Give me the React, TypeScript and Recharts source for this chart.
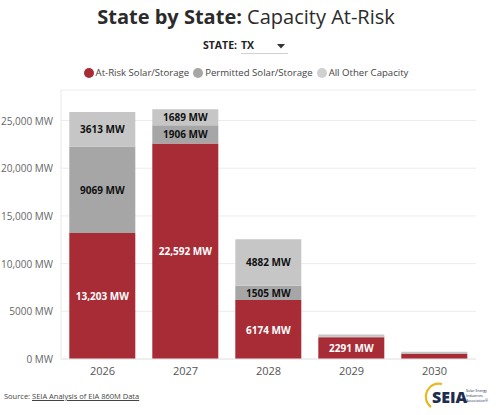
import React from 'react'
import { BarChart, Bar, XAxis, YAxis, CartesianGrid, LabelList } from 'recharts'

const years = ['2026', '2027', '2028', '2029', '2030']
const atRisk = [13203, 22592, 6174, 2291, 560]
const permitted = [9069, 1906, 1505, 60, 40]
const otherCapacity = [3613, 1689, 4882, 230, 170]
const yTicks = [0, 5000, 10000, 15000, 20000, 25000]

const RED = '#a82c36'
const DARK_GRAY = '#a6a6a6'
const LIGHT_GRAY = '#c6c6c6'
const FONT = '"Open Sans", sans-serif'

const data = years.map((year, i) => ({
  year,
  atRisk: atRisk[i],
  permitted: permitted[i],
  other: otherCapacity[i],
}))

function fmtMW(v: number): string {
  if (v >= 10000) return `${v.toLocaleString('en-US')} MW`
  return `${v} MW`
}

/* eslint-disable @typescript-eslint/no-explicit-any */
function YTick({ x, y, payload }: any) {
  return (
    <text x={x} y={y} textAnchor="end" dominantBaseline="central" fontSize={10} fill="#666" fontFamily={FONT}>
      {fmtMW(payload.value)}
    </text>
  )
}

function segmentLabel(color: string) {
  return (props: any) => {
    const { x, y, width, height, value } = props
    if (height < 14) return null
    return (
      <text
        x={x + width / 2}
        y={y + height / 2}
        textAnchor="middle"
        dominantBaseline="central"
        fill={color}
        fontSize={10}
        fontWeight={700}
        fontFamily={FONT}
      >
        {fmtMW(value)}
      </text>
    )
  }
}
/* eslint-enable @typescript-eslint/no-explicit-any */

function LegendItem({ color, label }: { color: string; label: string }) {
  return (
    <span style={{ display: 'inline-flex', alignItems: 'center', gap: '2px' }}>
      <span style={{ width: 10, height: 10, borderRadius: '50%', background: color, display: 'inline-block' }} />
      {label}
    </span>
  )
}

export default function App() {
  return (
    <div style={{
      position: 'absolute', top: 0, left: 0, width: 500, height: 415,
      background: '#ffffff', fontFamily: FONT, color: '#333', overflow: 'hidden'
    }}>
      {/* Title */}
      <div style={{ position: 'absolute', top: 3, left: 0, width: 492, textAlign: 'center', fontSize: '20px', color: '#2b2b2b' }}>
        <span style={{ fontWeight: 700 }}>State by State:</span> Capacity At-Risk
      </div>

      {/* State selector */}
      <div style={{ position: 'absolute', top: 38, left: 203, fontSize: '10.5px', fontWeight: 700, color: '#222' }}>
        STATE:
      </div>
      <div style={{
        position: 'absolute', top: 38, left: 241, width: 47, height: 15,
        borderBottom: '1px solid #d0d0d0', fontSize: '10.5px', fontWeight: 700, color: '#222'
      }}>
        TX
        <svg width="8" height="5" style={{ position: 'absolute', left: 36, top: 6 }}>
          <polygon points="0,0 8,0 4,4.5" fill="#333" />
        </svg>
      </div>

      {/* Legend */}
      <div style={{
        position: 'absolute', top: 66, left: 0, width: 492, display: 'flex', justifyContent: 'center',
        gap: '4px', fontSize: '9.6px', color: '#444'
      }}>
        <LegendItem color={RED} label="At-Risk Solar/Storage" />
        <LegendItem color={DARK_GRAY} label="Permitted Solar/Storage" />
        <LegendItem color="#d0d0d0" label="All Other Capacity" />
      </div>

      {/* Chart */}
      <div style={{ position: 'absolute', top: 80, left: 0 }}>
        <BarChart
          width={500}
          height={300}
          data={data}
          margin={{ top: 10, right: 24, left: 0, bottom: 0 }}
          barCategoryGap="10%"
        >
          <CartesianGrid vertical={false} stroke="#ececec" strokeWidth={1} />
          <XAxis
            dataKey="year"
            axisLine={{ stroke: '#e8e8e8' }}
            tickLine={false}
            height={21}
            tick={{ fontSize: 11, fill: '#555', fontFamily: FONT }}
          />
          <YAxis
            width={61}
            domain={[0, 28200]}
            ticks={yTicks}
            axisLine={{ stroke: '#e8e8e8' }}
            tickLine={false}
            tick={<YTick />}
            interval={0}
          />
          <Bar dataKey="atRisk" stackId="a" fill={RED} isAnimationActive={false}>
            <LabelList dataKey="atRisk" content={segmentLabel('#ffffff')} />
          </Bar>
          <Bar dataKey="permitted" stackId="a" fill={DARK_GRAY} isAnimationActive={false}>
            <LabelList dataKey="permitted" content={segmentLabel('#111111')} />
          </Bar>
          <Bar dataKey="other" stackId="a" fill={LIGHT_GRAY} isAnimationActive={false}>
            <LabelList dataKey="other" content={segmentLabel('#111111')} />
          </Bar>
        </BarChart>
      </div>

      {/* Source */}
      <div style={{ position: 'absolute', top: 391, left: 4, fontSize: '7.5px', color: '#444' }}>
        Source: <span style={{ textDecoration: 'underline' }}>SEIA Analysis of EIA 860M Data</span>
      </div>

      {/* Logo */}
      <svg width="80" height="30" style={{ position: 'absolute', left: 418, top: 380 }}>
        <path d="M 13 27 A 13 13 0 0 1 24 4" fill="none" stroke="#e8b820" strokeWidth={2.2} />
        <text x={14} y={23} fontSize={16} fontWeight={800} fill="#1d2c4f" fontFamily={FONT}>SEIA</text>
        <text x={48} y={12} fontSize={3.6} fill="#1d2c4f" fontFamily={FONT}>Solar Energy</text>
        <text x={48} y={17} fontSize={3.6} fill="#1d2c4f" fontFamily={FONT}>Industries</text>
        <text x={48} y={22} fontSize={3.6} fill="#1d2c4f" fontFamily={FONT}>Association®</text>
      </svg>
    </div>
  )
}
